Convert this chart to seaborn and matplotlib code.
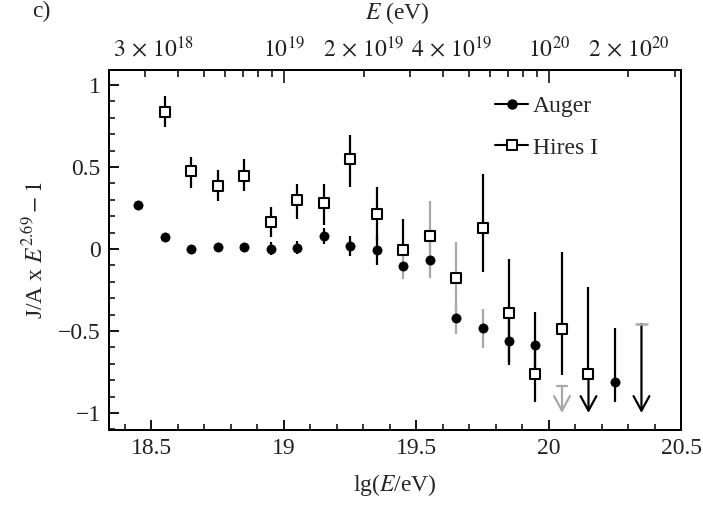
import numpy as np
import pandas as pd
import seaborn as sns
import matplotlib
matplotlib.use("Agg")
import matplotlib.pyplot as plt
import matplotlib.transforms as mtransforms
from matplotlib.lines import Line2D

# ---------------- data ----------------
auger_lg = [18.45, 18.55, 18.65, 18.75, 18.85, 18.95, 19.05, 19.15, 19.25, 19.35,
            19.45, 19.55, 19.65, 19.75, 19.85, 19.95, 20.25]
auger_val = [0.268, 0.071, 0.000, 0.010, 0.012, 0.002, 0.008, 0.079, 0.018, -0.006,
             -0.104, -0.067, -0.420, -0.484, -0.560, -0.585, -0.810]
auger_err_lo = [0.02, 0.02, 0.02, 0.02, 0.02, 0.04, 0.04, 0.05, 0.06, 0.09,
                0.08, 0.11, 0.10, 0.12, 0.13, 0.20, 0.125]
auger_err_hi = [0.02, 0.02, 0.02, 0.02, 0.02, 0.04, 0.04, 0.05, 0.06, 0.09,
                0.08, 0.11, 0.10, 0.12, 0.13, 0.20, 0.33]
auger_gray = [False, False, False, False, False, False, False, False, False, False,
              True, True, True, True, False, False, False]
auger_limit_lg = [20.05]
auger_limit_top = [-0.835]

hires_lg = [18.55, 18.65, 18.75, 18.85, 18.95, 19.05, 19.15, 19.25, 19.35, 19.45,
            19.55, 19.65, 19.75, 19.85, 19.95, 20.05, 20.15]
hires_val = [0.837, 0.476, 0.386, 0.447, 0.167, 0.299, 0.279, 0.549, 0.211, -0.006,
             0.080, -0.180, 0.128, -0.390, -0.764, -0.490, -0.764]
hires_err_hi = [0.095, 0.087, 0.094, 0.100, 0.091, 0.100, 0.120, 0.146, 0.165, 0.186,
                0.210, 0.225, 0.330, 0.330, 0.170, 0.470, 0.530]
hires_err_lo = [0.095, 0.106, 0.096, 0.092, 0.092, 0.118, 0.133, 0.170, 0.165, 0.000,
                0.210, 0.220, 0.270, 0.320, 0.170, 0.280, 0.000]
hires_gray = [False, False, False, False, False, False, False, False, False, False,
              True, True, False, False, False, False, False]
hires_arrow_lg = [20.15]
hires_arrow_top = [-0.764]
hires_limit_lg = [20.35]
hires_limit_top = [-0.457]
limit_floor = -1.0

bottom_ticks = [18.5, 19, 19.5, 20, 20.5]
bottom_labels = ["18.5", "19", "19.5", "20", "20.5"]
left_ticks = [-1, -0.5, 0, 0.5, 1]
left_labels = ["\u22121", "\u22120.5", "0", "0.5", "1"]
top_major_E = [1e19, 1e20]
top_major_labels = [r"$10^{19}$", r"$10^{20}$"]
top_minor_E = [3e18, 4e18, 5e18, 6e18, 7e18, 8e18, 9e18, 2e19, 3e19, 4e19, 5e19,
               6e19, 7e19, 8e19, 9e19, 2e20, 3e20]
top_minor_labels = [r"$3\,\times\,10^{18}$", "", "", "", "", "", "", r"$2\,\times\,10^{19}$", "",
                    r"$4\,\times\,10^{19}$", "", "", "", "", "", r"$2\,\times\,10^{20}$", ""]

# ---------------- style ----------------
sns.set_theme(style="ticks")
plt.rcParams["font.family"] = ["Liberation Serif", "DejaVu Serif"]
plt.rcParams["mathtext.fontset"] = "stix"
plt.rcParams["axes.unicode_minus"] = True
FS = 17
GRAY = "#a8a8a8"

fig = plt.figure(figsize=(7.03, 5.05), dpi=100)
ax = fig.add_axes([0.155, 0.1485, 0.814, 0.7125])

auger_df = pd.DataFrame({"lg": auger_lg, "val": auger_val})
hires_df = pd.DataFrame({"lg": hires_lg, "val": hires_val})

# error bars
for x, y, lo, hi, g in zip(auger_lg, auger_val, auger_err_lo, auger_err_hi, auger_gray):
    ax.errorbar([x], [y], yerr=[[lo], [hi]], fmt="none", ecolor=GRAY if g else "black",
                elinewidth=1.6, capsize=0, zorder=2)
for x, y, lo, hi, g in zip(hires_lg, hires_val, hires_err_lo, hires_err_hi, hires_gray):
    ax.errorbar([x], [y], yerr=[[lo], [hi]], fmt="none", ecolor=GRAY if g else "black",
                elinewidth=1.6, capsize=0, zorder=2)

# upper-limit arrows
arrow_kw = dict(arrowstyle="->,head_length=0.55,head_width=0.3", lw=1.6,
                shrinkA=0, shrinkB=0, mutation_scale=19)
for x, top in zip(auger_limit_lg, auger_limit_top):
    ax.annotate("", xy=(x, limit_floor), xytext=(x, top),
                arrowprops=dict(color=GRAY, **arrow_kw), zorder=2)
    ax.plot([x - 0.02, x + 0.02], [top, top], color=GRAY, lw=1.6, zorder=2)
for x, top in zip(hires_arrow_lg, hires_arrow_top):
    ax.annotate("", xy=(x, limit_floor), xytext=(x, top),
                arrowprops=dict(color="black", **arrow_kw), zorder=2)
for x, top in zip(hires_limit_lg, hires_limit_top):
    ax.annotate("", xy=(x, limit_floor), xytext=(x, top),
                arrowprops=dict(color="black", **arrow_kw), zorder=2)
    ax.plot([x - 0.02, x + 0.02], [top, top], color=GRAY, lw=1.8, zorder=2)

# markers
sns.scatterplot(data=auger_df, x="lg", y="val", ax=ax, marker="o", s=44,
                color="black", edgecolor="black", linewidth=0.5, zorder=3, legend=False)
sns.scatterplot(data=hires_df, x="lg", y="val", ax=ax, marker="s", s=54,
                facecolor="white", edgecolor="black", linewidth=1.5, zorder=4, legend=False)

# axes
ax.set_xlim(18.34, 20.5)
ax.set_ylim(-1.104, 1.09)
ax.set_xticks(bottom_ticks, bottom_labels)
ax.set_xticks(np.arange(18.4, 20.45, 0.1), minor=True)
ax.set_yticks(left_ticks, left_labels)
ax.set_yticks(np.arange(-1.1, 1.05, 0.1), minor=True)
ax.tick_params(axis="both", which="major", direction="in", length=7, width=1.3,
               labelsize=FS, color="black", labelcolor="#222222", pad=6)
ax.tick_params(axis="both", which="minor", direction="in", length=4, width=1.1,
               color="black")
ax.tick_params(axis="x", which="both", top=False)
ax.tick_params(axis="y", which="both", right=False)
for s in ax.spines.values():
    s.set_linewidth(1.4)
    s.set_color("black")
ax.set_xlabel(r"lg($E$/eV)", fontsize=FS, labelpad=9)
ax.set_ylabel(r"J/A x $E^{2.69}-1$", fontsize=FS, labelpad=7)

ax2 = ax.twiny()
ax2.set_xlim(ax.get_xlim())
ax2.set_xticks(np.log10(top_major_E), top_major_labels)
ax2.set_xticks(np.log10(top_minor_E), top_minor_labels, minor=True)
ax2.tick_params(axis="x", which="major", direction="in", length=9, width=1.3,
                labelsize=FS, pad=6, labelcolor="#222222")
ax2.tick_params(axis="x", which="minor", direction="in", length=5, width=1.3,
                labelsize=FS, pad=6, labelcolor="#222222")
for s in ax2.spines.values():
    s.set_linewidth(1.4)
    s.set_color("black")
# some top labels sit a little right of their ticks in the reference
minor_ticks = ax2.xaxis.get_minor_ticks()
for idx in (0, 9):
    lbl = minor_ticks[idx].label2
    lbl.set_transform(lbl.get_transform() +
                      mtransforms.ScaledTranslation(8 / 100, 0, fig.dpi_scale_trans))

fig.text(0.565, 0.999, r"$E$ (eV)", ha="center", va="top", fontsize=FS)
fig.text(0.045, 0.999, "c)", ha="left", va="top", fontsize=FS)

# legend
handles = [
    Line2D([], [], color="black", lw=1.5, marker="o", markersize=6.5),
    Line2D([], [], color="black", lw=1.5, marker="s", markersize=6.5,
           markerfacecolor="white", markeredgewidth=1.4),
]
ax.legend(handles, ["Auger", "Hires I"], loc="upper left", bbox_to_anchor=(0.675, 0.93),
          frameon=False, fontsize=FS, handlelength=1.4, handletextpad=0.2,
          labelspacing=0.85, borderpad=0, borderaxespad=0)

fig.savefig("out.png", dpi=100)
